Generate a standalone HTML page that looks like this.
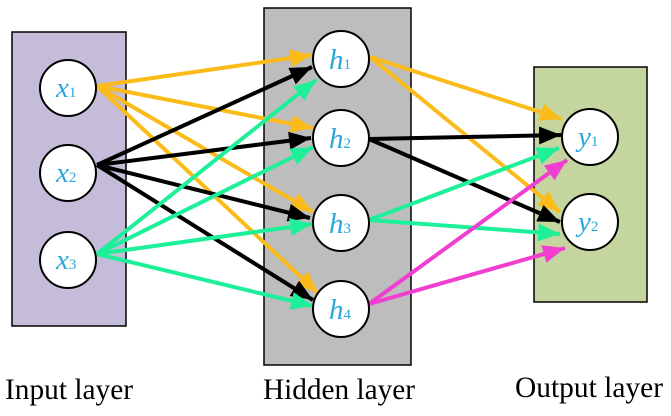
<!DOCTYPE html>
<html><head><meta charset="utf-8"><style>
html,body{margin:0;padding:0;background:#fff;}
svg{display:block;}
.n{fill:#fff;stroke:#000;stroke-width:2;}
.t{font-family:"Liberation Serif",serif;font-style:italic;font-size:29px;fill:#2aa7d8;}
.s{font-style:normal;font-size:15px;}
.l{font-family:"Liberation Serif",serif;font-size:30px;fill:#000;}
</style></head><body>
<svg width="671" height="416" viewBox="0 0 671 416" xmlns="http://www.w3.org/2000/svg">
<defs>
<marker id="mo" markerUnits="userSpaceOnUse" markerWidth="24" markerHeight="18" refX="22" refY="9" orient="auto"><path d="M0,0 L22,9 L0,18 Z" fill="#fbbb1a"/></marker>
<marker id="mk" markerUnits="userSpaceOnUse" markerWidth="24" markerHeight="18" refX="22" refY="9" orient="auto"><path d="M0,0 L22,9 L0,18 Z" fill="#000"/></marker>
<marker id="mg" markerUnits="userSpaceOnUse" markerWidth="24" markerHeight="18" refX="22" refY="9" orient="auto"><path d="M0,0 L22,9 L0,18 Z" fill="#1ef09a"/></marker>
<marker id="mp" markerUnits="userSpaceOnUse" markerWidth="24" markerHeight="18" refX="22" refY="9" orient="auto"><path d="M0,0 L22,9 L0,18 Z" fill="#f03ed0"/></marker>
</defs>
<rect x="12" y="32" width="114" height="294" fill="#c4bcd9" stroke="#000" stroke-width="1.5"/>
<rect x="264" y="8" width="147" height="357" fill="#bdbdbd" stroke="#000" stroke-width="1.5"/>
<rect x="534" y="67" width="113" height="235" fill="#c5d59f" stroke="#000" stroke-width="1.5"/>
<g stroke-width="4" fill="none">
<g stroke="#fbbb1a" marker-end="url(#mo)">
<line x1="97" y1="86" x2="312" y2="55"/>
<line x1="97" y1="86" x2="313" y2="128"/>
<line x1="97" y1="86" x2="313" y2="212"/>
<line x1="97" y1="86" x2="318" y2="293"/>
</g>
<g stroke="#000" marker-end="url(#mk)">
<line x1="97" y1="165" x2="312" y2="67"/>
<line x1="97" y1="165" x2="311" y2="138"/>
<line x1="97" y1="165" x2="310" y2="218"/>
<line x1="97" y1="165" x2="313" y2="300"/>
</g>
<g stroke="#1ef09a" marker-end="url(#mg)">
<line x1="97" y1="254" x2="316" y2="80"/>
<line x1="97" y1="254" x2="313" y2="147"/>
<line x1="97" y1="254" x2="312" y2="224"/>
<line x1="97" y1="254" x2="313" y2="306"/>
</g>
<g stroke="#fbbb1a" marker-end="url(#mo)">
<line x1="370" y1="57" x2="562" y2="119"/>
<line x1="370" y1="57" x2="560" y2="212"/>
</g>
<g stroke="#000" marker-end="url(#mk)">
<line x1="369" y1="139" x2="561" y2="135"/>
<line x1="369" y1="139" x2="560" y2="222"/>
</g>
<g stroke="#1ef09a" marker-end="url(#mg)">
<line x1="369" y1="220" x2="559" y2="148"/>
<line x1="369" y1="220" x2="560" y2="234"/>
</g>
<g stroke="#f03ed0" marker-end="url(#mp)">
<line x1="369" y1="304" x2="567" y2="160"/>
<line x1="369" y1="304" x2="565" y2="248"/>
</g>
</g>
<circle class="n" cx="68" cy="88" r="28"/>
<circle class="n" cx="68" cy="173" r="28"/>
<circle class="n" cx="68" cy="260" r="28"/>
<circle class="n" cx="341" cy="59" r="28"/>
<circle class="n" cx="341" cy="138" r="28"/>
<circle class="n" cx="341" cy="223" r="28"/>
<circle class="n" cx="341" cy="309" r="28"/>
<circle class="n" cx="590" cy="137" r="28"/>
<circle class="n" cx="590" cy="222" r="28"/>
<text class="t" x="56" y="97">x<tspan class="s">1</tspan></text>
<text class="t" x="56" y="182">x<tspan class="s">2</tspan></text>
<text class="t" x="56" y="269">x<tspan class="s">3</tspan></text>
<text class="t" x="329" y="69">h<tspan class="s">1</tspan></text>
<text class="t" x="329" y="148">h<tspan class="s">2</tspan></text>
<text class="t" x="329" y="233">h<tspan class="s">3</tspan></text>
<text class="t" x="329" y="319">h<tspan class="s">4</tspan></text>
<text class="t" x="578" y="146">y<tspan class="s">1</tspan></text>
<text class="t" x="578" y="231">y<tspan class="s">2</tspan></text>
<text class="l" x="5" y="399" textLength="128" lengthAdjust="spacingAndGlyphs">Input layer</text>
<text class="l" x="263" y="399" textLength="152" lengthAdjust="spacingAndGlyphs">Hidden layer</text>
<text class="l" x="515" y="397" textLength="148" lengthAdjust="spacingAndGlyphs">Output layer</text>
</svg>
</body></html>
